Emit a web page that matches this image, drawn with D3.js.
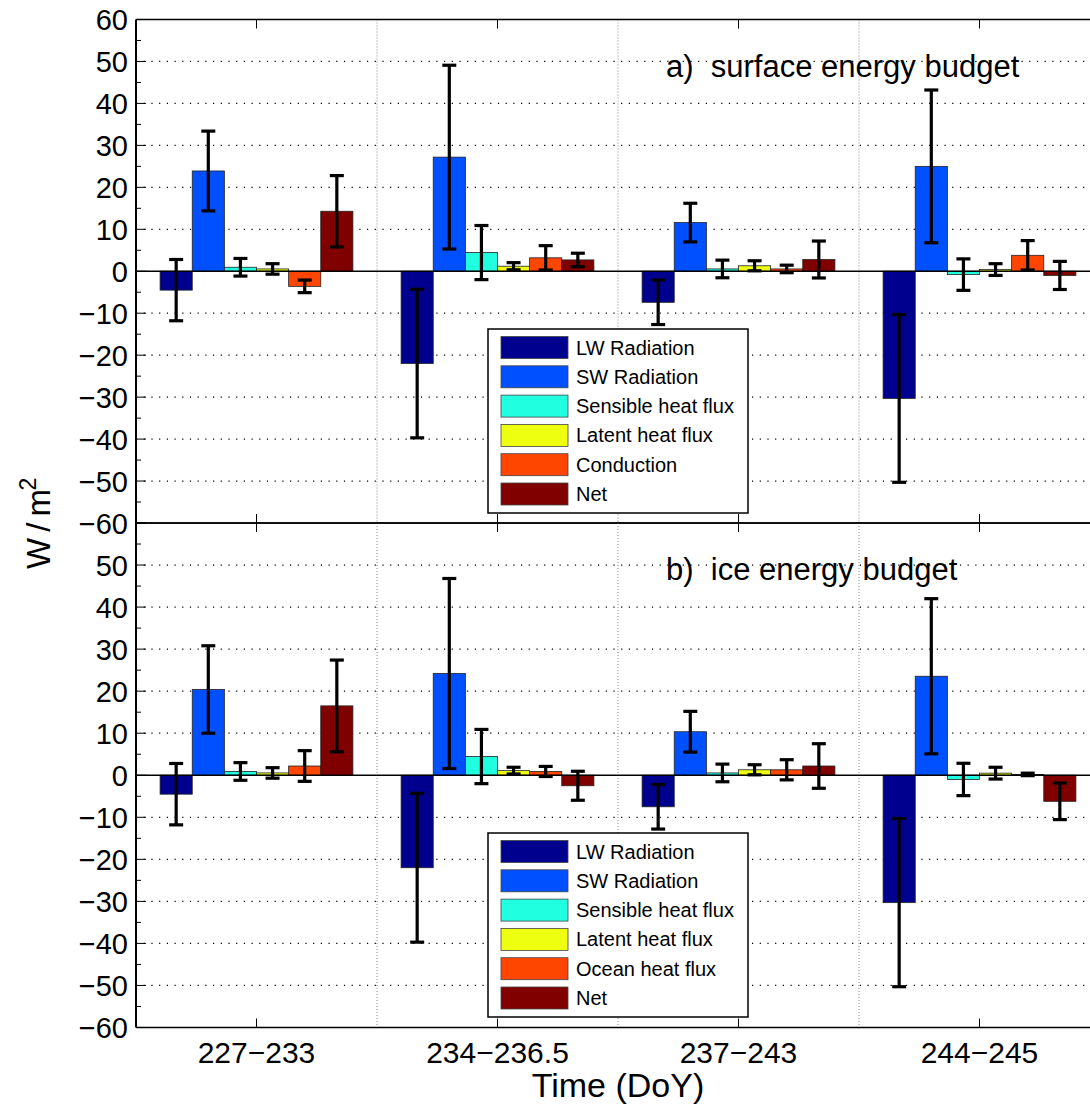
<!DOCTYPE html>
<html>
<head>
<meta charset="utf-8">
<script src="https://cdn.jsdelivr.net/npm/d3@7"></script>
<style>
  body { margin: 0; background: #fff; }
  svg { display: block; font-family: "Liberation Sans", Arial, sans-serif; }
</style>
</head>
<body>
<div id="chart"></div>
<script>
// categories (time windows, day of year)
const categories = ['227\u2212233', '234\u2212236.5', '237\u2212243', '244\u2212245'];

// series names
const surfaceSeries = ['LW Radiation', 'SW Radiation', 'Sensible heat flux', 'Latent heat flux', 'Conduction', 'Net'];
const iceSeries = ['LW Radiation', 'SW Radiation', 'Sensible heat flux', 'Latent heat flux', 'Ocean heat flux', 'Net'];

// a) surface energy budget, W/m2 (one value per category)
const surfLW = [-4.5, -22.0, -7.4, -30.3];
const surfSW = [23.9, 27.2, 11.6, 25.0];
const surfSens = [0.95, 4.45, 0.55, -0.8];
const surfLat = [0.55, 1.2, 1.3, 0.4];
const surfCond = [-3.6, 3.2, 0.55, 3.8];
const surfNet = [14.3, 2.7, 2.8, -1.0];
// error bar half widths
const surfLWErr = [7.3, 17.7, 5.3, 20.0];
const surfSWErr = [9.5, 21.9, 4.6, 18.2];
const surfSensErr = [2.1, 6.45, 2.1, 3.75];
const surfLatErr = [1.25, 0.85, 1.2, 1.4];
const surfCondErr = [1.5, 2.9, 0.9, 3.5];
const surfNetErr = [8.5, 1.6, 4.4, 3.35];

// b) ice energy budget
const iceLW = [-4.5, -22.0, -7.5, -30.3];
const iceSW = [20.4, 24.2, 10.35, 23.55];
const iceSens = [0.9, 4.45, 0.55, -1.0];
const iceLat = [0.55, 1.1, 1.3, 0.5];
const iceOcean = [2.2, 0.9, 1.3, 0.2];
const iceNet = [16.5, -2.5, 2.2, -6.2];
const iceLWErr = [7.3, 17.7, 5.3, 20.0];
const iceSWErr = [10.4, 22.6, 4.85, 18.45];
const iceSensErr = [2.1, 6.45, 2.1, 3.85];
const iceLatErr = [1.25, 0.8, 1.2, 1.4];
const iceOceanErr = [3.65, 1.2, 2.4, 0.3];
const iceNetErr = [10.9, 3.45, 5.3, 4.35];

const yTicks = [-60, -50, -40, -30, -20, -10, 0, 10, 20, 30, 40, 50, 60];

// jet-like colours of the bar series
const colors = ['#00008f', '#0050ff', '#20ffdf', '#efff10', '#ff4600', '#800000'];

const width = 1090, height = 1107;
const svg = d3.select('#chart').append('svg')
    .attr('width', width)
    .attr('height', height);

// x: groups at 1..4, axis from 0.5 to 4.5 (right edge falls off the picture)
let x = d3.scaleLinear().domain([0.5, 4.5]).range([136, 1100]);
let barW = 0.8 / 6;

let panels = [
    {
        top: 19.5, bottom: 523, label: 'a)  surface energy budget', labelY: 77,
        names: surfaceSeries,
        values: [surfLW, surfSW, surfSens, surfLat, surfCond, surfNet],
        errs: [surfLWErr, surfSWErr, surfSensErr, surfLatErr, surfCondErr, surfNetErr],
        legend: {x: 488, y: 329},
        showTop: true
    },
    {
        top: 523, bottom: 1027.5, label: 'b)  ice energy budget', labelY: 580,
        names: iceSeries,
        values: [iceLW, iceSW, iceSens, iceLat, iceOcean, iceNet],
        errs: [iceLWErr, iceSWErr, iceSensErr, iceLatErr, iceOceanErr, iceNetErr],
        legend: {x: 488, y: 833},
        showTop: false
    }
];

panels.forEach(p => {
    let y = d3.scaleLinear().domain([-60, 60]).range([p.bottom, p.top]);
    let g = svg.append('g');

    // horizontal dotted grid
    g.append('g')
        .selectAll('line')
        .data(yTicks.filter(t => t !== 0 && Math.abs(t) !== 60))
        .join('line')
        .attr('x1', x(0.5)).attr('x2', width)
        .attr('y1', d => y(d)).attr('y2', d => y(d))
        .attr('stroke', '#000')
        .attr('stroke-width', 1.2)
        .attr('stroke-dasharray', '1.2,6.5');

    // vertical dotted separators between groups
    g.append('g')
        .selectAll('line')
        .data([1.5, 2.5, 3.5])
        .join('line')
        .attr('x1', d => x(d)).attr('x2', d => x(d))
        .attr('y1', p.top).attr('y2', p.bottom)
        .attr('stroke', '#888')
        .attr('stroke-width', 1)
        .attr('stroke-dasharray', '1,2');

    // bars
    let rows = [];
    p.values.forEach((vals, s) => {
        vals.forEach((v, c) => {
            rows.push({s: s, c: c, v: v, e: p.errs[s][c], cx: c + 1 + (s - 2.5) * barW});
        });
    });

    g.append('g')
        .selectAll('rect')
        .data(rows)
        .join('rect')
        .attr('x', d => x(d.cx - barW / 2))
        .attr('width', x(barW) - x(0))
        .attr('y', d => y(Math.max(0, d.v)))
        .attr('height', d => Math.abs(y(d.v) - y(0)))
        .attr('fill', d => colors[d.s])
        .attr('stroke', '#222')
        .attr('stroke-width', 0.8);

    // zero line
    g.append('line')
        .attr('x1', x(0.5)).attr('x2', width)
        .attr('y1', y(0)).attr('y2', y(0))
        .attr('stroke', '#000')
        .attr('stroke-width', 1.3);

    // error bars
    let eb = g.append('g')
        .attr('stroke', '#000')
        .attr('stroke-width', 3.2)
        .selectAll('g')
        .data(rows)
        .join('g');
    eb.append('line')
        .attr('x1', d => x(d.cx)).attr('x2', d => x(d.cx))
        .attr('y1', d => y(d.v + d.e)).attr('y2', d => y(d.v - d.e));
    eb.append('line')
        .attr('x1', d => x(d.cx) - 7).attr('x2', d => x(d.cx) + 7)
        .attr('y1', d => y(d.v + d.e)).attr('y2', d => y(d.v + d.e));
    eb.append('line')
        .attr('x1', d => x(d.cx) - 7).attr('x2', d => x(d.cx) + 7)
        .attr('y1', d => y(d.v - d.e)).attr('y2', d => y(d.v - d.e));

    // y ticks: majors every 10, minors every 5, pointing inward
    let minor = d3.range(-55, 60, 10);
    g.append('g')
        .selectAll('line')
        .data(yTicks.concat(minor))
        .join('line')
        .attr('x1', x(0.5))
        .attr('x2', d => x(0.5) + (d % 10 === 0 ? 10 : 5))
        .attr('y1', d => y(d)).attr('y2', d => y(d))
        .attr('stroke', '#000')
        .attr('stroke-width', 1);

    // y tick labels
    g.append('g')
        .selectAll('text')
        .data(p.showTop ? yTicks : yTicks.filter(t => t !== 60))
        .join('text')
        .attr('x', 128)
        .attr('y', d => y(d) + 10.5)
        .attr('text-anchor', 'end')
        .attr('font-size', 29)
        .text(d => d < 0 ? '\u2212' + Math.abs(d) : d);

    // x ticks top and bottom, pointing inward
    g.append('g')
        .selectAll('line')
        .data([1, 2, 3, 4])
        .join('line')
        .attr('x1', d => x(d)).attr('x2', d => x(d))
        .attr('y1', p.top).attr('y2', p.top + 9)
        .attr('stroke', '#000');
    g.append('g')
        .selectAll('line')
        .data([1, 2, 3, 4])
        .join('line')
        .attr('x1', d => x(d)).attr('x2', d => x(d))
        .attr('y1', p.bottom).attr('y2', p.bottom - 9)
        .attr('stroke', '#000');

    // frame (top / bottom / left)
    g.append('line')
        .attr('x1', x(0.5)).attr('x2', width)
        .attr('y1', p.top).attr('y2', p.top)
        .attr('stroke', '#000').attr('stroke-width', 1.3);
    g.append('line')
        .attr('x1', x(0.5)).attr('x2', width)
        .attr('y1', p.bottom).attr('y2', p.bottom)
        .attr('stroke', '#000').attr('stroke-width', 1.3);
    g.append('line')
        .attr('x1', x(0.5)).attr('x2', x(0.5))
        .attr('y1', p.top).attr('y2', p.bottom)
        .attr('stroke', '#000').attr('stroke-width', 2);

    // panel label
    g.append('text')
        .attr('x', 666)
        .attr('y', p.labelY)
        .attr('font-size', 31)
        .attr('xml:space', 'preserve')
        .style('white-space', 'pre')
        .text(p.label);

    // legend
    let lg = g.append('g').attr('transform', `translate(${p.legend.x},${p.legend.y})`);
    lg.append('rect')
        .attr('width', 260).attr('height', 184)
        .attr('fill', '#fff')
        .attr('stroke', '#000')
        .attr('stroke-width', 1.5);
    let item = lg.selectAll('g.item')
        .data(p.names)
        .join('g')
        .attr('class', 'item')
        .attr('transform', (d, i) => `translate(13,${7.5 + i * 29.3})`);
    item.append('rect')
        .attr('width', 67).attr('height', 22)
        .attr('fill', (d, i) => colors[i])
        .attr('stroke', '#444')
        .attr('stroke-width', 0.8);
    item.append('text')
        .attr('x', 75)
        .attr('y', 18)
        .attr('font-size', 20)
        .text(d => d);
});

// x tick labels under the bottom panel
svg.append('g')
    .selectAll('text')
    .data(categories)
    .join('text')
    .attr('x', (d, i) => x(i + 1))
    .attr('y', 1063)
    .attr('text-anchor', 'middle')
    .attr('font-size', 30)
    .text(d => d);

// axis titles
svg.append('text')
    .attr('x', 618)
    .attr('y', 1097)
    .attr('text-anchor', 'middle')
    .attr('font-size', 34)
    .text('Time (DoY)');

let yl = svg.append('text')
    .attr('transform', 'translate(50,569) rotate(-90)')
    .attr('text-anchor', 'start')
    .attr('font-size', 33);
yl.append('tspan')
    .attr('textLength', 80)
    .attr('lengthAdjust', 'spacing')
    .text('W / m');
yl.append('tspan').attr('dy', -14).attr('font-size', 23).text('2');
</script>
</body>
</html>
